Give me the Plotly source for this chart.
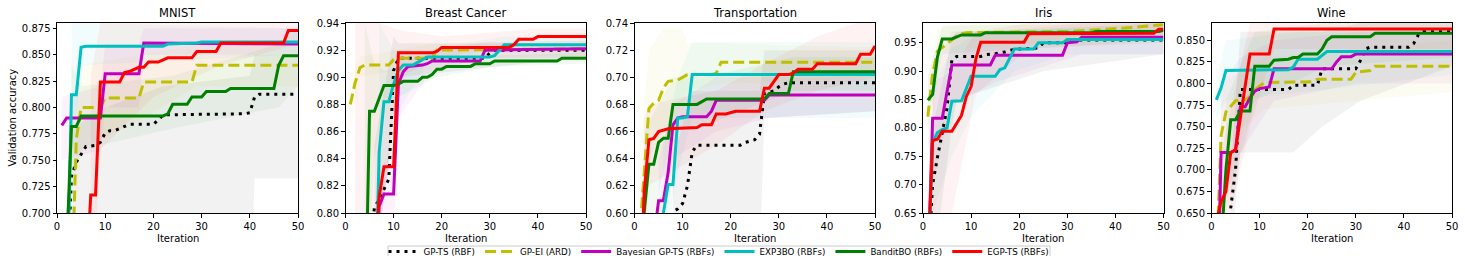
import plotly.graph_objects as go

# ---------------- data ----------------
DATASETS = ["MNIST", "Breast Cancer", "Transportation", "Iris", "Wine"]
METHODS = ["GP-TS (RBF)", "GP-EI (ARD)", "Bayesian GP-TS (RBFs)",
           "EXP3BO (RBFs)", "BanditBO (RBFs)", "EGP-TS (RBFs)"]

X_TICKS = [0, 10, 20, 30, 40, 50]
Y_RANGES = [[0.70, 0.88], [0.80, 0.94], [0.60, 0.74], [0.65, 0.985], [0.65, 0.87]]
Y_TICKS_MNIST = [0.700, 0.725, 0.750, 0.775, 0.800, 0.825, 0.850, 0.875]
Y_TICKS_BREAST = [0.80, 0.82, 0.84, 0.86, 0.88, 0.90, 0.92, 0.94]
Y_TICKS_TRANSPORT = [0.60, 0.62, 0.64, 0.66, 0.68, 0.70, 0.72, 0.74]
Y_TICKS_IRIS = [0.65, 0.70, 0.75, 0.80, 0.85, 0.90, 0.95]
Y_TICKS_WINE = [0.650, 0.675, 0.700, 0.725, 0.750, 0.775, 0.800, 0.825, 0.850]
Y_TICK_FORMATS = [".3f", ".2f", ".2f", ".2f", ".3f"]

# mean curves: [iteration, validation accuracy]
MNIST_GPTS = [[2,0.62],[3,0.735],[4,0.748],[5,0.755],[6,0.763],[8,0.764],[9,0.767],[10,0.776],[11,0.778],[12,0.778],[13,0.780],[14,0.782],[15,0.784],[20,0.784],[21,0.788],[22,0.793],[39,0.794],[40,0.795],[41,0.810],[42,0.8125],[50,0.8125]]
MNIST_GPEI = [[3,0.62],[4,0.77],[5,0.800],[9,0.800],[10,0.809],[17,0.809],[18,0.824],[28,0.824],[29,0.840],[50,0.840]]
MNIST_BGPTS = [[1,0.783],[2,0.790],[9,0.790],[10,0.832],[17,0.832],[18,0.861],[50,0.860]]
MNIST_EXP3BO = [[2,0.59],[3,0.812],[4,0.812],[5,0.857],[6,0.858],[22,0.858],[23,0.860],[29,0.861],[30,0.862],[50,0.862]]
MNIST_BANDIT = [[1,0.55],[2,0.66],[3,0.782],[4,0.782],[5,0.792],[22,0.792],[23,0.794],[24,0.803],[27,0.803],[28,0.810],[30,0.810],[31,0.815],[35,0.815],[36,0.818],[45,0.818],[46,0.840],[47,0.849],[50,0.849]]
MNIST_EGPTS = [[6,0.63],[7,0.717],[8,0.717],[9,0.824],[13,0.824],[14,0.833],[15,0.834],[16,0.836],[17,0.838],[18,0.838],[19,0.843],[21,0.843],[22,0.845],[23,0.847],[28,0.847],[29,0.853],[33,0.853],[34,0.861],[47,0.861],[48,0.873],[50,0.873]]

BREAST_GPTS = [[5,0.76],[6,0.804],[7,0.810],[8,0.817],[9,0.825],[10,0.905],[11,0.914],[29,0.914],[30,0.918],[31,0.920],[50,0.920]]
BREAST_GPEI = [[1,0.880],[2,0.896],[3,0.907],[4,0.909],[9,0.909],[10,0.913],[11,0.914],[18,0.914],[19,0.920],[50,0.921]]
BREAST_BGPTS = [[6,0.74],[7,0.805],[8,0.814],[10,0.814],[11,0.895],[12,0.904],[13,0.908],[16,0.909],[17,0.910],[18,0.912],[28,0.912],[29,0.920],[50,0.921]]
BREAST_EXP3BO = [[6,0.70],[7,0.845],[8,0.882],[9,0.882],[10,0.895],[11,0.905],[12,0.909],[14,0.909],[15,0.911],[16,0.913],[17,0.915],[30,0.915],[31,0.916],[32,0.920],[33,0.924],[50,0.924]]
BREAST_BANDIT = [[4,0.70],[5,0.875],[6,0.875],[7,0.885],[8,0.894],[10,0.894],[11,0.895],[12,0.897],[15,0.897],[16,0.900],[17,0.900],[18,0.902],[19,0.906],[20,0.906],[21,0.908],[26,0.908],[27,0.910],[30,0.910],[31,0.912],[44,0.912],[45,0.914],[50,0.914]]
BREAST_EGPTS = [[6,0.76],[7,0.812],[8,0.834],[10,0.834],[11,0.918],[18,0.918],[19,0.919],[20,0.922],[34,0.922],[35,0.924],[36,0.928],[39,0.928],[40,0.930],[50,0.930]]

TRANSPORT_GPTS = [[7,0.58],[8,0.601],[9,0.603],[10,0.607],[11,0.620],[12,0.645],[13,0.650],[22,0.650],[23,0.652],[24,0.653],[25,0.654],[26,0.658],[27,0.688],[28,0.689],[29,0.690],[30,0.693],[31,0.695],[32,0.696],[50,0.696]]
TRANSPORT_GPEI = [[1,0.58],[2,0.63],[3,0.677],[4,0.681],[5,0.683],[6,0.692],[7,0.697],[9,0.698],[10,0.700],[11,0.702],[16,0.702],[17,0.703],[18,0.711],[50,0.711]]
TRANSPORT_BGPTS = [[4,0.58],[5,0.609],[6,0.609],[7,0.630],[8,0.665],[9,0.670],[10,0.671],[15,0.671],[16,0.675],[17,0.683],[27,0.683],[28,0.687],[50,0.687]]
TRANSPORT_EXP3BO = [[5,0.57],[6,0.60],[7,0.621],[8,0.621],[9,0.670],[10,0.670],[11,0.671],[12,0.702],[50,0.702]]
TRANSPORT_BANDIT = [[1,0.55],[2,0.60],[3,0.636],[4,0.636],[5,0.652],[6,0.655],[7,0.655],[8,0.680],[13,0.680],[14,0.682],[15,0.684],[27,0.684],[28,0.688],[32,0.688],[33,0.704],[50,0.704]]
TRANSPORT_EGPTS = [[1,0.52],[2,0.615],[3,0.654],[4,0.655],[5,0.660],[6,0.661],[7,0.662],[13,0.663],[14,0.665],[16,0.665],[17,0.673],[19,0.673],[20,0.674],[21,0.675],[26,0.675],[27,0.692],[28,0.692],[29,0.697],[30,0.702],[32,0.702],[33,0.703],[34,0.706],[37,0.706],[38,0.710],[46,0.710],[47,0.717],[49,0.717],[50,0.723]]

IRIS_GPTS = [[1,0.55],[2,0.70],[3,0.748],[4,0.795],[5,0.835],[6,0.920],[7,0.926],[12,0.926],[13,0.929],[15,0.931],[16,0.932],[17,0.934],[18,0.937],[20,0.939],[24,0.941],[25,0.950],[30,0.950],[31,0.955],[50,0.955]]
IRIS_GPEI = [[1,0.820],[2,0.895],[3,0.935],[4,0.942],[5,0.948],[6,0.955],[7,0.962],[8,0.966],[9,0.968],[30,0.970],[38,0.974],[42,0.976],[47,0.980],[50,0.982]]
IRIS_BGPTS = [[1,0.54],[2,0.817],[4,0.817],[5,0.865],[6,0.911],[14,0.911],[15,0.928],[29,0.928],[30,0.950],[32,0.952],[33,0.960],[50,0.960]]
IRIS_EXP3BO = [[1,0.55],[2,0.775],[3,0.792],[4,0.797],[5,0.800],[6,0.847],[8,0.848],[9,0.868],[10,0.891],[15,0.891],[16,0.903],[17,0.906],[18,0.922],[19,0.939],[23,0.939],[24,0.950],[29,0.950],[30,0.956],[50,0.956]]
IRIS_BANDIT = [[1,0.849],[2,0.859],[3,0.925],[4,0.957],[6,0.957],[7,0.960],[8,0.964],[12,0.964],[13,0.968],[35,0.968],[36,0.970],[49,0.970],[50,0.972]]
IRIS_EGPTS = [[1,0.55],[2,0.778],[3,0.780],[4,0.794],[6,0.794],[7,0.808],[8,0.822],[9,0.855],[10,0.873],[11,0.922],[12,0.951],[21,0.951],[22,0.966],[48,0.967],[49,0.974],[50,0.974]]

WINE_GPTS = [[3,0.60],[4,0.656],[5,0.700],[6,0.793],[16,0.793],[17,0.798],[22,0.798],[23,0.817],[30,0.817],[31,0.827],[32,0.840],[33,0.842],[41,0.842],[42,0.846],[43,0.856],[44,0.860],[50,0.860]]
WINE_GPEI = [[1,0.59],[2,0.740],[3,0.767],[4,0.774],[5,0.780],[7,0.781],[8,0.785],[9,0.793],[10,0.797],[11,0.801],[21,0.802],[22,0.805],[29,0.805],[30,0.813],[33,0.815],[34,0.820],[50,0.820]]
WINE_BGPTS = [[1,0.49],[2,0.720],[4,0.720],[5,0.723],[6,0.773],[7,0.773],[8,0.783],[9,0.791],[10,0.794],[12,0.796],[13,0.817],[25,0.817],[26,0.825],[27,0.831],[29,0.831],[30,0.834],[50,0.834]]
WINE_EXP3BO = [[1,0.781],[2,0.795],[3,0.815],[16,0.816],[17,0.819],[18,0.828],[22,0.828],[23,0.833],[24,0.837],[50,0.837]]
WINE_BANDIT = [[2,0.61],[3,0.700],[4,0.758],[5,0.758],[6,0.768],[8,0.768],[9,0.820],[12,0.820],[13,0.827],[16,0.828],[17,0.830],[18,0.830],[19,0.834],[22,0.834],[23,0.840],[24,0.850],[25,0.854],[33,0.854],[34,0.858],[50,0.858]]
WINE_EGPTS = [[1,0.64],[2,0.663],[3,0.675],[4,0.720],[5,0.723],[6,0.760],[7,0.792],[8,0.834],[12,0.834],[13,0.863],[50,0.863]]

# spread bands: [iteration, lower, upper]
MNIST_GPTS_BAND = [[3,0.60,0.78],[10,0.60,0.80],[22,0.60,0.82],[40,0.60,0.83],[41,0.733,0.85],[50,0.733,0.85]]
MNIST_GPEI_BAND = [[4,0.70,0.85],[5,0.76,0.84],[18,0.79,0.85],[29,0.82,0.86],[50,0.82,0.86]]
MNIST_BGPTS_BAND = [[1,0.75,0.81],[9,0.76,0.82],[10,0.80,0.86],[17,0.80,0.86],[18,0.85,0.875],[50,0.85,0.875]]
MNIST_EXP3BO_BAND = [[3,0.74,0.88],[5,0.84,0.88],[50,0.85,0.875]]
MNIST_BANDIT_BAND = [[3,0.72,0.84],[5,0.76,0.82],[24,0.78,0.83],[46,0.80,0.86],[50,0.82,0.875]]
MNIST_EGPTS_BAND = [[7,0.60,0.83],[9,0.76,0.88],[20,0.81,0.88],[34,0.84,0.88],[50,0.86,0.89]]

BREAST_GPTS_BAND = [[6,0.76,0.85],[10,0.86,0.93],[11,0.90,0.925],[50,0.915,0.925]]
BREAST_GPEI_BAND = [[1,0.86,0.90],[3,0.90,0.915],[10,0.905,0.92],[19,0.915,0.925],[50,0.915,0.927]]
BREAST_BGPTS_BAND = [[7,0.78,0.83],[10,0.78,0.85],[11,0.87,0.92],[18,0.905,0.918],[29,0.914,0.926],[50,0.914,0.927]]
BREAST_EXP3BO_BAND = [[7,0.78,0.94],[10,0.87,0.92],[17,0.91,0.92],[33,0.918,0.93],[50,0.918,0.93]]
BREAST_BANDIT_BAND = [[4,0.70,0.94],[6,0.84,0.91],[8,0.88,0.905],[19,0.90,0.912],[31,0.908,0.916],[50,0.91,0.918]]
BREAST_EGPTS_BAND = [[2,0.78,0.94],[7,0.78,0.94],[11,0.90,0.935],[20,0.915,0.93],[40,0.925,0.936],[50,0.925,0.936]]

TRANSPORT_GPTS_BAND = [[8,0.56,0.64],[12,0.56,0.69],[26,0.56,0.69],[27,0.67,0.72],[50,0.675,0.72]]
TRANSPORT_GPEI_BAND = [[1,0.56,0.64],[3,0.64,0.72],[6,0.66,0.736],[10,0.68,0.736],[11,0.69,0.725],[18,0.695,0.725],[50,0.70,0.722]]
TRANSPORT_BGPTS_BAND = [[5,0.58,0.64],[8,0.64,0.68],[17,0.66,0.70],[28,0.67,0.70],[50,0.675,0.70]]
TRANSPORT_EXP3BO_BAND = [[6,0.57,0.65],[9,0.63,0.70],[12,0.67,0.726],[50,0.67,0.726]]
TRANSPORT_BANDIT_BAND = [[2,0.57,0.66],[8,0.66,0.70],[15,0.665,0.70],[33,0.69,0.715],[50,0.69,0.715]]
TRANSPORT_EGPTS_BAND = [[2,0.57,0.67],[3,0.62,0.68],[17,0.65,0.69],[27,0.675,0.71],[38,0.69,0.73],[50,0.70,0.745]]

IRIS_GPTS_BAND = [[2,0.55,0.80],[6,0.80,0.96],[7,0.85,0.97],[25,0.90,0.975],[50,0.93,0.985]]
IRIS_GPEI_BAND = [[1,0.75,0.88],[3,0.88,0.975],[9,0.94,0.985],[50,0.965,0.99]]
IRIS_BGPTS_BAND = [[2,0.70,0.90],[6,0.84,0.97],[15,0.88,0.97],[33,0.93,0.985],[50,0.93,0.985]]
IRIS_EXP3BO_BAND = [[2,0.65,0.87],[6,0.75,0.94],[10,0.82,0.96],[19,0.90,0.97],[30,0.93,0.975],[50,0.93,0.975]]
IRIS_BANDIT_BAND = [[1,0.80,0.89],[4,0.93,0.98],[50,0.955,0.985]]
IRIS_EGPTS_BAND = [[2,0.65,0.88],[6,0.65,0.90],[11,0.86,0.97],[22,0.94,0.985],[50,0.95,0.99]]

WINE_GPTS_BAND = [[4,0.60,0.70],[6,0.72,0.86],[17,0.72,0.86],[23,0.75,0.86],[31,0.78,0.87],[50,0.82,0.87]]
WINE_GPEI_BAND = [[2,0.65,0.80],[5,0.74,0.81],[11,0.77,0.83],[30,0.78,0.84],[50,0.79,0.85]]
WINE_BGPTS_BAND = [[2,0.65,0.80],[6,0.72,0.83],[13,0.78,0.85],[30,0.80,0.86],[50,0.80,0.86]]
WINE_EXP3BO_BAND = [[1,0.76,0.80],[3,0.78,0.85],[18,0.79,0.86],[50,0.81,0.86]]
WINE_BANDIT_BAND = [[3,0.65,0.78],[9,0.78,0.86],[24,0.82,0.87],[50,0.83,0.87]]
WINE_EGPTS_BAND = [[2,0.60,0.72],[8,0.75,0.87],[13,0.84,0.87],[50,0.84,0.87]]

LINES = [
    [MNIST_GPTS, MNIST_GPEI, MNIST_BGPTS, MNIST_EXP3BO, MNIST_BANDIT, MNIST_EGPTS],
    [BREAST_GPTS, BREAST_GPEI, BREAST_BGPTS, BREAST_EXP3BO, BREAST_BANDIT, BREAST_EGPTS],
    [TRANSPORT_GPTS, TRANSPORT_GPEI, TRANSPORT_BGPTS, TRANSPORT_EXP3BO, TRANSPORT_BANDIT, TRANSPORT_EGPTS],
    [IRIS_GPTS, IRIS_GPEI, IRIS_BGPTS, IRIS_EXP3BO, IRIS_BANDIT, IRIS_EGPTS],
    [WINE_GPTS, WINE_GPEI, WINE_BGPTS, WINE_EXP3BO, WINE_BANDIT, WINE_EGPTS],
]
BANDS = [
    [MNIST_GPTS_BAND, MNIST_GPEI_BAND, MNIST_BGPTS_BAND, MNIST_EXP3BO_BAND, MNIST_BANDIT_BAND, MNIST_EGPTS_BAND],
    [BREAST_GPTS_BAND, BREAST_GPEI_BAND, BREAST_BGPTS_BAND, BREAST_EXP3BO_BAND, BREAST_BANDIT_BAND, BREAST_EGPTS_BAND],
    [TRANSPORT_GPTS_BAND, TRANSPORT_GPEI_BAND, TRANSPORT_BGPTS_BAND, TRANSPORT_EXP3BO_BAND, TRANSPORT_BANDIT_BAND, TRANSPORT_EGPTS_BAND],
    [IRIS_GPTS_BAND, IRIS_GPEI_BAND, IRIS_BGPTS_BAND, IRIS_EXP3BO_BAND, IRIS_BANDIT_BAND, IRIS_EGPTS_BAND],
    [WINE_GPTS_BAND, WINE_GPEI_BAND, WINE_BGPTS_BAND, WINE_EXP3BO_BAND, WINE_BANDIT_BAND, WINE_EGPTS_BAND],
]
Y_TICKS = [Y_TICKS_MNIST, Y_TICKS_BREAST, Y_TICKS_TRANSPORT, Y_TICKS_IRIS, Y_TICKS_WINE]

# ---------------- style ----------------
W, H = 1465, 256
COLORS = [(0, 0, 0), (191, 191, 0), (191, 0, 191), (0, 191, 191), (0, 128, 0), (255, 0, 0)]
DASHES = ["3px,5px", "11px,5px", "solid", "solid", "solid", "solid"]
PANEL_PX = [(57, 298), (345.5, 586), (634.5, 875), (923, 1163.5), (1211.5, 1452)]
TOP_PX, BOTTOM_PX = 23, 213
FONT = "DejaVu Sans"

fig = go.Figure()
layout = dict(
    width=W, height=H, margin=dict(l=0, r=0, t=0, b=0, autoexpand=False),
    paper_bgcolor="white", plot_bgcolor="white",
    font=dict(family=FONT, size=10, color="black"),
    showlegend=True,
)
annotations = []
for i, name in enumerate(DATASETS):
    sfx = "" if i == 0 else str(i + 1)
    xa, ya = "x" + sfx, "y" + sfx
    x0, x1 = PANEL_PX[i]
    layout["xaxis" + sfx] = dict(
        domain=[x0 / W, x1 / W], range=[0, 50], tickvals=X_TICKS,
        showline=True, linecolor="black", linewidth=1, mirror=True,
        ticks="outside", ticklen=3.5, tickwidth=1, tickcolor="black",
        showgrid=False, zeroline=False, anchor=ya, automargin=False,
        tickfont=dict(family=FONT, size=10, color="black"),
    )
    layout["yaxis" + sfx] = dict(
        domain=[1 - BOTTOM_PX / H, 1 - TOP_PX / H], range=Y_RANGES[i],
        tickvals=Y_TICKS[i], tickformat=Y_TICK_FORMATS[i],
        showline=True, linecolor="black", linewidth=1, mirror=True,
        ticks="outside", ticklen=3.5, tickwidth=1, tickcolor="black",
        showgrid=False, zeroline=False, anchor=xa, automargin=False,
        tickfont=dict(family=FONT, size=10, color="black"),
    )
    # bands
    for j, band in enumerate(BANDS[i]):
        bx = [p[0] for p in band]
        lo = [p[1] for p in band]
        hi = [p[2] for p in band]
        r, g, b = COLORS[j]
        fig.add_trace(go.Scatter(
            x=bx + bx[::-1], y=hi + lo[::-1], xaxis=xa, yaxis=ya,
            fill="toself", fillcolor=f"rgba({r},{g},{b},0.05)",
            line=dict(width=0), mode="lines", showlegend=False, hoverinfo="skip",
        ))
    # mean lines
    for j, series in enumerate(LINES[i]):
        r, g, b = COLORS[j]
        fig.add_trace(go.Scatter(
            x=[p[0] for p in series], y=[p[1] for p in series],
            xaxis=xa, yaxis=ya, mode="lines", name=METHODS[j],
            line=dict(color=f"rgb({r},{g},{b})", width=3, dash=DASHES[j]),
            showlegend=(i == 0), legendgroup=METHODS[j],
        ))
    cx = (x0 + x1) / 2 / W
    annotations.append(dict(text=name, x=cx, y=1 - 13 / H, xref="paper", yref="paper",
                            showarrow=False, font=dict(family=FONT, size=11.5, color="black"),
                            xanchor="center", yanchor="middle"))
    annotations.append(dict(text="Iteration", x=cx, y=1 - 238 / H, xref="paper", yref="paper",
                            showarrow=False, font=dict(family=FONT, size=10, color="black"),
                            xanchor="center", yanchor="middle"))

annotations.append(dict(text="Validation accuracy", x=11.5 / W, y=1 - 118 / H,
                        xref="paper", yref="paper", textangle=-90, showarrow=False,
                        font=dict(family=FONT, size=10, color="black"),
                        xanchor="center", yanchor="middle"))
layout["annotations"] = annotations
# legend frame (drawn as a shape so the entries can sit close to its top edge)
layout["shapes"] = [dict(type="rect", xref="paper", yref="paper",
                         x0=388 / W, x1=1050 / W, y0=1 - 246 / H, y1=1 - 266 / H,
                         line=dict(color="#cccccc", width=1), fillcolor="white", layer="above")]
layout["legend"] = dict(
    orientation="h", x=719 / W, xanchor="center", y=1 - 237 / H, yanchor="top",
    bgcolor="rgba(0,0,0,0)", borderwidth=0,
    font=dict(family=FONT, size=8.7, color="black"), itemwidth=30, traceorder="normal",
)
fig.update_layout(**layout)
fig.write_html("out.html", config={"displayModeBar": False},
               post_script="document.body.style.margin='0';document.body.style.overflow='hidden';")
